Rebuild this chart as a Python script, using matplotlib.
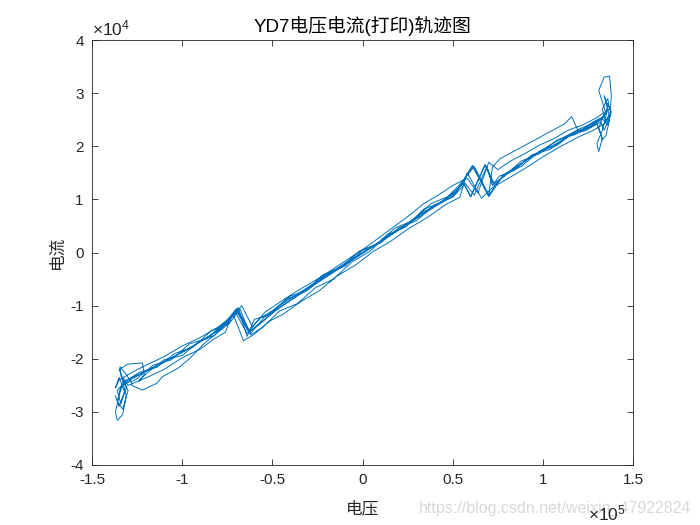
import numpy as np
import matplotlib
matplotlib.use("Agg")
import matplotlib.pyplot as plt
from matplotlib.ticker import FuncFormatter

plt.rcParams['font.family'] = ['Liberation Sans', 'Noto Sans CJK SC', 'DejaVu Sans']
plt.rcParams['axes.unicode_minus'] = False
plt.rcParams['mathtext.fontset'] = 'custom'
plt.rcParams['mathtext.rm'] = 'Liberation Sans'

# Data in units of 1e5 (voltage) and 1e4 (current)
V_SCALE = 1e5
I_SCALE = 1e4

r1_v = [-1.32,-1.22,-1.10,-1.00,-0.90,-0.80,-0.74,-0.70,-0.63,-0.56,-0.48,-0.38,-0.28,-0.18,-0.08,0.02,0.12,0.22,0.32,0.42,0.52,0.61,0.70,0.77,0.86,0.96,1.06,1.16,1.26,1.32]
r1_i = [-2.42,-2.26,-2.06,-1.88,-1.68,-1.46,-1.30,-1.06,-1.50,-1.32,-1.08,-0.86,-0.62,-0.40,-0.18,0.04,0.26,0.48,0.72,0.92,1.14,1.64,1.05,1.40,1.62,1.86,2.02,2.22,2.38,2.50]

e1_v = [1.35,1.31,1.34,1.37,1.38,1.37,1.35,1.33,1.31,1.34]
e1_i = [2.62,3.05,3.30,3.32,2.95,2.50,2.20,2.12,2.35,2.60]

l1_v = [1.34,1.28,1.18,1.08,0.98,0.88,0.78,0.73,0.68,0.60,0.56,0.48,0.38,0.28,0.18,0.08,-0.02,-0.12,-0.22,-0.32,-0.42,-0.52,-0.60,-0.64,-0.69,-0.76,-0.86,-0.96,-1.06,-1.16,-1.26,-1.33]
l1_i = [2.56,2.46,2.22,2.12,1.86,1.72,1.42,1.30,1.66,1.05,1.30,1.06,0.92,0.60,0.46,0.16,0.02,-0.28,-0.42,-0.74,-0.88,-1.18,-1.26,-1.58,-1.04,-1.30,-1.62,-1.72,-2.02,-2.12,-2.40,-2.48]

e2_v = [-1.35,-1.37,-1.36,-1.33,-1.31,-1.34,-1.345,-1.32,-1.28]
e2_i = [-2.70,-3.00,-3.16,-3.05,-2.70,-2.30,-2.15,-2.25,-2.45]

r2_v = [-1.28,-1.22,-1.14,-1.11,-1.02,-0.96,-0.88,-0.80,-0.75,-0.71,-0.64,-0.57,-0.50,-0.40,-0.30,-0.20,-0.10,0.00,0.10,0.20,0.30,0.40,0.50,0.56,0.60,0.68,0.73,0.80,0.90,1.00,1.10,1.20,1.28,1.34]
r2_i = [-2.50,-2.59,-2.46,-2.34,-2.17,-2.00,-1.72,-1.50,-1.36,-1.10,-1.52,-1.34,-1.14,-0.90,-0.68,-0.46,-0.24,-0.02,0.20,0.42,0.64,0.86,1.06,1.32,1.05,1.64,1.26,1.50,1.72,1.94,2.14,2.32,2.44,2.56]

e3_v = [1.36,1.34,1.36,1.33,1.30,1.31,1.33]
e3_i = [2.75,2.95,2.70,2.30,2.05,1.90,2.15]

l2_v = [1.30,1.20,1.16,1.12,0.76,0.72,0.70,0.61,0.52,0.44,0.34,0.24,0.14,0.04,-0.06,-0.16,-0.26,-0.36,-0.46,-0.54,-0.62,-0.69,-0.78,-0.88,-0.98,-1.08,-1.18,-1.28,-1.34]
l2_i = [2.42,2.26,2.56,2.42,1.76,1.60,1.08,1.62,1.14,0.96,0.76,0.52,0.30,0.08,-0.12,-0.34,-0.56,-0.78,-1.00,-1.20,-1.52,-1.08,-1.42,-1.64,-1.84,-2.02,-2.20,-2.38,-2.52]

e4_v = [-1.36,-1.33,-1.30,-1.35,-1.30,-1.22,-1.21,-1.24]
e4_i = [-2.80,-2.95,-2.60,-2.20,-2.10,-2.08,-2.30,-2.42]

r3_v = [-1.20,-1.10,-1.00,-0.90,-0.82,-0.76,-0.70,-0.62,-0.55,-0.46,-0.36,-0.26,-0.16,-0.06,0.04,0.14,0.24,0.34,0.44,0.54,0.62,0.70,0.78,0.88,0.98,1.08,1.18,1.26,1.33]
r3_i = [-2.28,-2.02,-1.94,-1.66,-1.56,-1.32,-1.10,-1.55,-1.40,-1.10,-0.96,-0.66,-0.50,-0.18,0.02,0.34,0.48,0.82,0.94,1.28,1.62,1.08,1.46,1.62,1.90,2.02,2.28,2.36,2.52]

e5_v = [1.36,1.38,1.35,1.37,1.34]
e5_i = [2.40,2.65,2.85,2.55,2.30]

l3_v = [1.32,1.24,1.14,1.04,0.94,0.84,0.76,0.72,0.69,0.62,0.57,0.50,0.40,0.30,0.20,0.10,0.00,-0.10,-0.20,-0.30,-0.40,-0.50,-0.57,-0.63,-0.68,-0.74,-0.84,-0.94,-1.04,-1.14,-1.24,-1.32]
l3_i = [2.46,2.30,2.20,1.94,1.84,1.54,1.44,1.26,1.62,1.08,1.30,1.04,0.90,0.60,0.46,0.18,0.04,-0.26,-0.40,-0.70,-0.82,-1.10,-1.24,-1.48,-1.06,-1.34,-1.48,-1.78,-1.90,-2.16,-2.26,-2.44]

e6_v = [-1.36,-1.34,-1.31,-1.33]
e6_i = [-2.60,-2.85,-2.55,-2.35]

r4_v = [-1.30,-1.20,-1.10,-1.00,-0.90,-0.82,-0.76,-0.72,-0.66,-0.60,-0.52,-0.44,-0.34,-0.24,-0.14,-0.04,0.06,0.16,0.26,0.36,0.46,0.54,0.58,0.66,0.72,0.80,0.90,1.00,1.10,1.20,1.28,1.34]
r4_i = [-2.50,-2.36,-2.20,-1.98,-1.82,-1.62,-1.50,-1.14,-1.66,-1.54,-1.30,-1.16,-0.92,-0.72,-0.44,-0.24,0.02,0.22,0.46,0.66,0.90,1.04,1.50,1.02,1.22,1.38,1.58,1.80,2.00,2.18,2.30,2.42]

e7_v = [1.37,1.35,1.33,1.36,1.37]
e7_i = [2.60,2.45,2.70,2.90,2.70]

l4_v = [1.36,1.30,1.22,1.14,1.06,0.98,0.90,0.82,0.75,0.70,0.64,0.58,0.50,0.42,0.34,0.26,0.18,0.10,0.02,-0.06,-0.14,-0.22,-0.30,-0.38,-0.46,-0.54,-0.61,-0.67,-0.72,-0.80,-0.90,-1.00,-1.10,-1.20,-1.28,-1.35]
l4_i = [2.68,2.54,2.40,2.30,2.14,2.02,1.86,1.72,1.56,1.70,1.12,1.40,1.26,1.08,0.92,0.70,0.50,0.30,0.10,-0.08,-0.26,-0.44,-0.60,-0.76,-0.94,-1.12,-1.40,-1.00,-1.20,-1.40,-1.60,-1.76,-1.96,-2.12,-2.26,-2.40]

e8_v = [-1.37,-1.35,-1.32,-1.35,-1.37]
e8_i = [-2.55,-2.35,-2.62,-2.90,-2.70]

title_text = 'YD7电压电流(打印)轨迹图'
xlabel_text = '电压'
ylabel_text = '电流'
watermark = 'https://blog.csdn.net/weixin_47922824'

voltage = np.concatenate([r1_v, e1_v, l1_v, e2_v, r2_v, e3_v, l2_v, e4_v,
                          r3_v, e5_v, l3_v, e6_v, r4_v, e7_v, l4_v, e8_v]) * V_SCALE
current = np.concatenate([r1_i, e1_i, l1_i, e2_i, r2_i, e3_i, l2_i, e4_i,
                          r3_i, e5_i, l3_i, e6_i, r4_i, e7_i, l4_i, e8_i]) * I_SCALE

fig = plt.figure(figsize=(7, 5.25), dpi=100)
ax = fig.add_axes([92/700, 60/525, 541/700, 425/525])
ax.plot(voltage, current, color='#0072BD', lw=0.7)

ax.set_xlim(-1.5e5, 1.5e5)
ax.set_ylim(-4e4, 4e4)
ax.set_xticks(np.arange(-1.5e5, 1.51e5, 0.5e5))
ax.set_yticks(np.arange(-4e4, 4.01e4, 1e4))
ax.xaxis.set_major_formatter(FuncFormatter(lambda v, p: f'{v / V_SCALE:g}'))
ax.yaxis.set_major_formatter(FuncFormatter(lambda v, p: f'{v / I_SCALE:g}'))

dark = '#262626'
ax.tick_params(direction='in', top=True, right=True, length=4, width=0.6,
               colors=dark, labelsize=11, pad=6)
for s in ax.spines.values():
    s.set_linewidth(0.6)
    s.set_color(dark)

ax.text(0.0, 1.003, r'$\times\mathregular{10^{4}}$', transform=ax.transAxes,
        ha='left', va='bottom', fontsize=12.5, color=dark)
fig.text(588/700, (525-513)/525, r'$\times\mathregular{10^{5}}$',
         ha='left', va='center', fontsize=12.5, color=dark, zorder=5)

ax.set_title(title_text, fontsize=13.5, color='#000000', pad=6,
             family=['Liberation Sans', 'Noto Sans CJK SC'])
ax.set_xlabel(xlabel_text, fontsize=12, color=dark, family=['Noto Sans CJK SC'], labelpad=9)
ax.set_ylabel(ylabel_text, fontsize=12, color=dark, family=['Noto Sans CJK SC'], labelpad=3)

fig.text(0.987, (525-508)/525, watermark, ha='right', va='center', fontsize=11.5,
         color='#d4d4d4', alpha=0.9, zorder=1)

fig.savefig('out.png', dpi=100)
